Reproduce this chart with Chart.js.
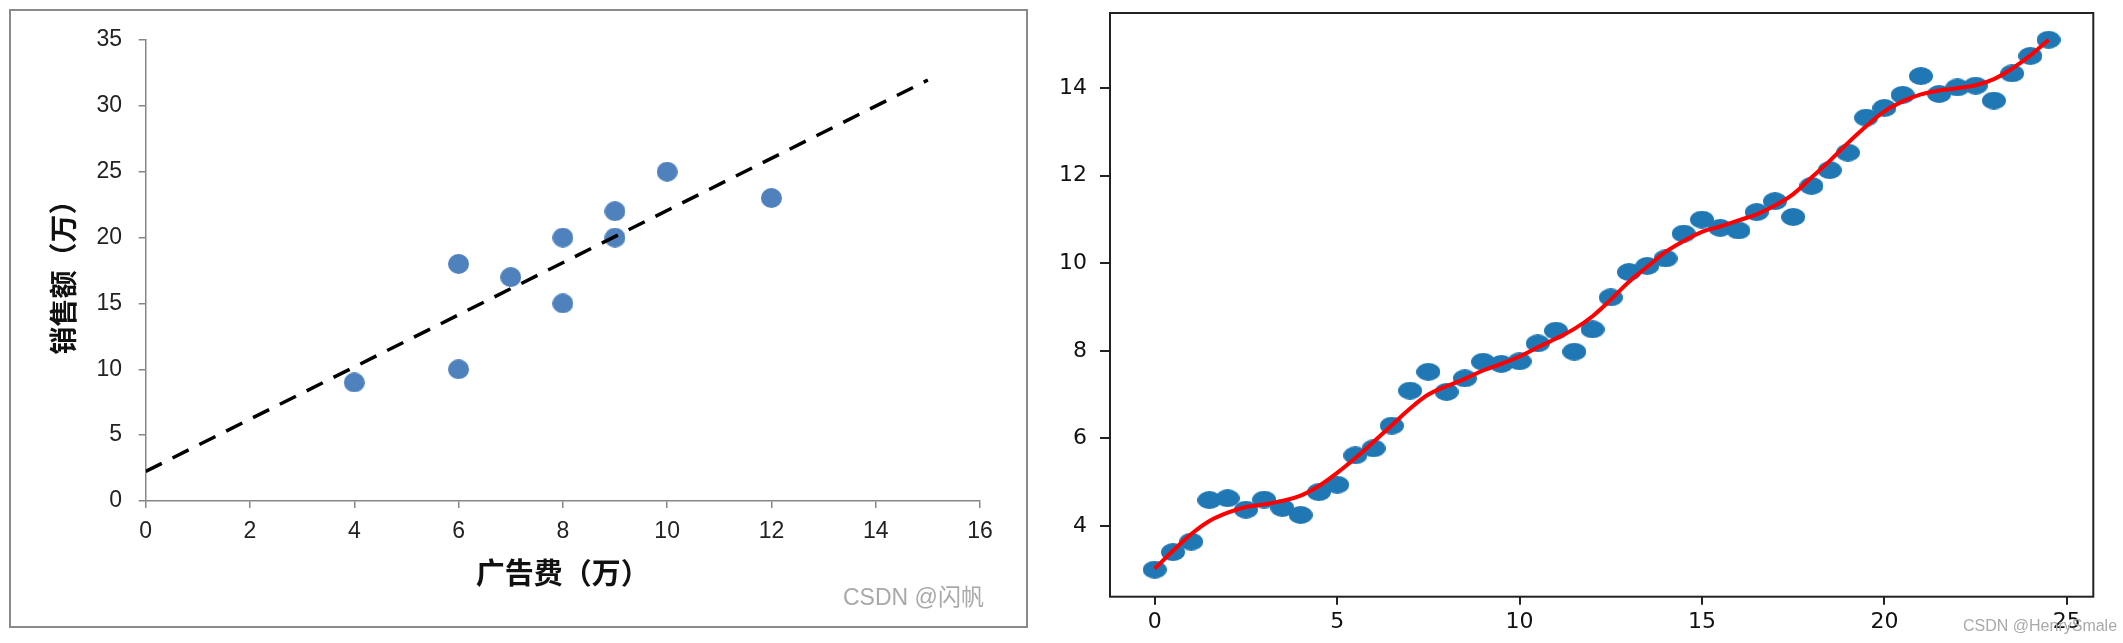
<!DOCTYPE html>
<html>
<head>
<meta charset="utf-8">
<script src="https://cdn.jsdelivr.net/npm/chart.js@4.4.1/dist/chart.umd.min.js"></script>
<style>
  html, body { margin: 0; padding: 0; background: #fff; }
  body { width: 2123px; height: 643px; position: relative; overflow: hidden; }
  #leftChart { position: absolute; left: 0; top: 0; }
  #rightChart { position: absolute; left: 1040px; top: 0; }
  .frame { position: absolute; left: 9px; top: 9px; width: 1015px; height: 615px; border: 2px solid #8a8a8a; pointer-events: none; }
  .mark { position: absolute; color: #a9a9a9; white-space: nowrap; font-family: "Liberation Sans", "Noto Sans CJK SC", sans-serif; }
</style>
</head>
<body>
<canvas id="leftChart" width="1040" height="643"></canvas>
<canvas id="rightChart" width="1083" height="643"></canvas>
<div class="frame"></div>
<div class="mark" style="left:843px; top:583px; font-size:23px; line-height:28px;">CSDN @闪帆</div>
<div class="mark" style="left:1963px; top:616px; font-size:16px; line-height:20px;">CSDN @HenrySmale</div>

<script>
// left chart data (Excel style)
const adCost = [4, 6, 6, 7, 8, 8, 9, 9, 10, 12];
const salesAmount = [9, 10, 18, 17, 15, 20, 20, 22, 25, 23];
const trendX = [0, 15];
const trendY = [2.25, 31.96];
const leftXTicks = [0, 2, 4, 6, 8, 10, 12, 14, 16];
const leftYTicks = [0, 5, 10, 15, 20, 25, 30, 35];

// right chart data (matplotlib style)
const sampleX = [0, 0.5, 1, 1.5, 2, 2.5, 3, 3.5, 4, 4.5, 5, 5.5, 6, 6.5, 7, 7.5, 8, 8.5, 9, 9.5,
    10, 10.5, 11, 11.5, 12, 12.5, 13, 13.5, 14, 14.5, 15, 15.5, 16, 16.5, 17, 17.5, 18, 18.5, 19, 19.5,
    20, 20.5, 21, 21.5, 22, 22.5, 23, 23.5, 24, 24.5];
const sampleY = [3.00, 3.40, 3.64, 4.59, 4.63, 4.37, 4.60, 4.41, 4.25, 4.77, 4.94, 5.61, 5.77, 6.29, 7.09, 7.52, 7.06, 7.37, 7.75, 7.70,
    7.76, 8.17, 8.46, 7.98, 8.49, 9.22, 9.80, 9.94, 10.11, 10.68, 11.00, 10.81, 10.75, 11.17, 11.42, 11.06, 11.77, 12.13, 12.53, 13.33,
    13.55, 13.85, 14.28, 13.87, 14.02, 14.06, 13.72, 14.34, 14.74, 15.11];
const fitY = [3.02, 3.43, 3.81, 4.11, 4.30, 4.43, 4.49, 4.57, 4.69, 4.91, 5.21, 5.55, 5.92, 6.30, 6.68, 7.00, 7.19, 7.36, 7.55, 7.70,
    7.87, 8.08, 8.28, 8.50, 8.79, 9.17, 9.58, 9.92, 10.26, 10.51, 10.72, 10.84, 10.98, 11.12, 11.32, 11.58, 11.96, 12.34, 12.75, 13.13,
    13.47, 13.70, 13.86, 13.95, 14.00, 14.07, 14.21, 14.45, 14.75, 15.11];
const rightXTicks = [0, 5, 10, 15, 20, 25];
const rightYTicks = [4, 6, 8, 10, 12, 14];

function dot(color, w, h) {
    const c = document.createElement('canvas');
    c.width = w;
    c.height = h;
    const g = c.getContext('2d');
    g.fillStyle = color;
    g.beginPath();
    g.ellipse(w / 2, h / 2, w / 2, h / 2, 0, 0, Math.PI * 2);
    g.fill();
    return c;
}

function pairs(xs, ys) {
    return xs.map((x, i) => ({ x: x, y: ys[i] }));
}

// fixed box sizes so the plot areas land where the reference has them
function fixSize(prop, size) {
    return s => {
        s[prop] = size;
        s.paddingTop = 0; s.paddingBottom = 0; s.paddingLeft = 0; s.paddingRight = 0;
    };
}

function setTicks(list) {
    return s => { s.ticks = list.map(v => ({ value: v })); };
}

const frame = {
    id: 'frame',
    afterDraw(chart) {
        const { ctx, chartArea: a } = chart;
        ctx.save();
        ctx.strokeStyle = '#222';
        ctx.lineWidth = 2;
        ctx.strokeRect(a.left, a.top, a.right - a.left, a.bottom - a.top);
        ctx.restore();
    }
};

/*---- left chart ----*/
const excelGray = '#868686';
new Chart(document.getElementById('leftChart'), {
    type: 'scatter',
    data: {
        datasets: [{
            type: 'line',
            data: pairs(trendX, trendY),
            borderColor: '#000',
            borderWidth: 3.5,
            borderDash: [18, 12],
            pointRadius: 0,
            fill: false,
            order: 0
        }, {
            data: pairs(adCost, salesAmount),
            pointStyle: dot('#4f81bd', 21, 20),
            pointRadius: 10,
            order: 1
        }]
    },
    options: {
        responsive: false,
        animation: false,
        devicePixelRatio: 1,
        layout: { padding: { left: 0, top: 40, right: 60, bottom: 0 } },
        plugins: { legend: { display: false }, tooltip: { enabled: false } },
        scales: {
            x: {
                type: 'linear', min: 0, max: 16,
                afterFit: fixSize('height', 142),
                afterBuildTicks: setTicks(leftXTicks),
                grid: { drawOnChartArea: false, drawTicks: true, tickLength: 7, color: excelGray, lineWidth: 1.5 },
                border: { color: excelGray, width: 1.5 },
                ticks: { font: { family: 'Liberation Sans', size: 23 }, color: '#222', padding: 10, maxRotation: 0, autoSkip: false },
                title: {
                    display: true, text: '广告费（万）', color: '#111',
                    font: { family: 'Noto Sans CJK SC', size: 29, weight: 'bold' },
                    padding: { top: 0, bottom: 52.6 }
                }
            },
            y: {
                type: 'linear', min: 0, max: 35,
                afterFit: fixSize('width', 145.7),
                afterBuildTicks: setTicks(leftYTicks),
                grid: { drawOnChartArea: false, drawTicks: true, tickLength: 7, color: excelGray, lineWidth: 1.5 },
                border: { color: excelGray, width: 1.5 },
                ticks: { font: { family: 'Liberation Sans', size: 23 }, color: '#222', padding: 16.7, autoSkip: false },
                title: {
                    display: true, text: '销售额（万）', color: '#111',
                    font: { family: 'Noto Sans CJK SC', size: 28, weight: 'bold' },
                    padding: { top: 47, bottom: 0 }
                }
            }
        }
    }
});

/*---- right chart ----*/
new Chart(document.getElementById('rightChart'), {
    type: 'scatter',
    data: {
        datasets: [{
            type: 'line',
            data: pairs(sampleX, fitY),
            borderColor: '#ff0000',
            borderWidth: 4,
            tension: 0.4,
            pointRadius: 0,
            fill: false,
            order: 0
        }, {
            data: pairs(sampleX, sampleY),
            pointStyle: dot('#1f77b4', 24, 18),
            pointRadius: 12,
            order: 1
        }]
    },
    options: {
        responsive: false,
        animation: false,
        devicePixelRatio: 1,
        layout: { padding: { left: 0, top: 7.3, right: 29.7, bottom: 0 } },
        plugins: { legend: { display: false }, tooltip: { enabled: false } },
        scales: {
            x: {
                type: 'linear', min: -1.225, max: 25.725,
                afterFit: fixSize('height', 46.3),
                afterBuildTicks: setTicks(rightXTicks),
                grid: { drawOnChartArea: false, drawTicks: true, tickLength: 8, color: '#222', lineWidth: 2 },
                border: { display: false },
                ticks: { font: { family: 'DejaVu Sans', size: 22 }, color: '#111', padding: 4, maxRotation: 0, autoSkip: false }
            },
            y: {
                type: 'linear', min: 2.38, max: 15.72,
                afterFit: fixSize('width', 70),
                afterBuildTicks: setTicks(rightYTicks),
                grid: { drawOnChartArea: false, drawTicks: true, tickLength: 10, color: '#222', lineWidth: 2 },
                border: { display: false },
                ticks: { font: { family: 'DejaVu Sans', size: 22 }, color: '#111', padding: 13, autoSkip: false }
            }
        }
    },
    plugins: [frame]
});
</script>
</body>
</html>
